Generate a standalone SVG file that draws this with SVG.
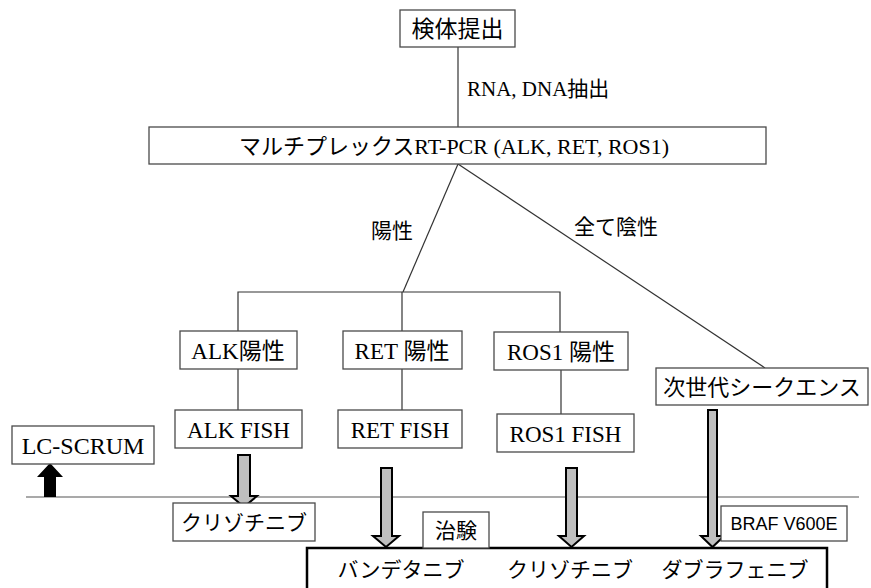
<svg xmlns="http://www.w3.org/2000/svg" width="871" height="588" viewBox="0 0 871 588">
<defs>
<style>
.box{fill:#fff;stroke:#4a4a4a;stroke-width:1.3}
.ln{fill:none;stroke:#333;stroke-width:1.2}
.t{font-family:"Liberation Serif",serif;fill:#000;text-anchor:middle}
.j{font-family:"Noto Sans CJK JP","Liberation Sans",sans-serif;fill:#000;text-anchor:middle}
.s{font-family:"Liberation Serif",serif}
.k{font-family:"Noto Sans CJK JP",sans-serif}
.arr{fill:#bfbfbf;stroke:#000;stroke-width:2;stroke-linejoin:miter}
</style>
</defs>
<rect width="871" height="588" fill="#fff"/>
<g id="connectors">
<line class="ln" x1="458" y1="47" x2="458" y2="127"/>
<line class="ln" x1="458" y1="164" x2="403" y2="292"/>
<line class="ln" x1="458" y1="164" x2="765" y2="368"/>
<polyline class="ln" points="238,331 238,292 560,292 560,332"/>
<line class="ln" x1="402" y1="292" x2="402" y2="331"/>
<line class="ln" x1="238" y1="369" x2="238" y2="410"/>
<line class="ln" x1="402" y1="369" x2="402" y2="410"/>
<line class="ln" x1="561" y1="370" x2="561" y2="414"/>
<line x1="26" y1="497" x2="859" y2="497" stroke="#555" stroke-width="1.2"/>
<path class="arr" d="M238,455 H250 V496 H257 L244,507 L231,496 H238 Z"/>
<path class="arr" d="M381,468 H392 V536 H399 L386,547 L373,536 H381 Z"/>
<path class="arr" d="M566,468 H577 V536 H584 L571.5,547 L559,536 H566 Z"/>
<path class="arr" d="M708,410 H717 V536 H724 L712.5,547 L701,536 H708 Z"/>
<path d="M44,497 V477 H37 L50,463 L63,477 H56 V497 Z" fill="#000"/>
</g>
<g id="n-kentai"><rect class="box" x="400" y="10" width="115" height="37"/><text class="j" x="457.5" y="37" font-size="23">検体提出</text></g>
<g id="l-extract"><text x="467" y="96" font-size="21"><tspan class="s">RNA, DNA</tspan><tspan class="k">抽出</tspan></text></g>
<g id="n-pcr"><rect class="box" x="149" y="127" width="617" height="37"/><text class="t" x="454" y="154" font-size="22"><tspan class="k">マルチプレックス</tspan><tspan class="s">RT-PCR (ALK, RET, ROS1)</tspan></text></g>
<g id="l-pos"><text class="j" x="392" y="238" font-size="21">陽性</text></g>
<g id="l-neg"><text class="j" x="616" y="234" font-size="21">全て陰性</text></g>
<g id="n-alkpos"><rect class="box" x="180" y="331" width="117" height="38"/><text class="t" x="238" y="359" font-size="23"><tspan class="s">ALK</tspan><tspan class="k">陽性</tspan></text></g>
<g id="n-retpos"><rect class="box" x="343" y="331" width="119" height="38"/><text class="t" x="402" y="359" font-size="23"><tspan class="s">RET </tspan><tspan class="k">陽性</tspan></text></g>
<g id="n-ros1pos"><rect class="box" x="494" y="332" width="134" height="38"/><text class="t" x="561" y="360" font-size="23"><tspan class="s">ROS1 </tspan><tspan class="k">陽性</tspan></text></g>
<g id="n-ngs"><rect class="box" x="656" y="368" width="212" height="37"/><text class="j" x="762" y="395" font-size="22">次世代シークエンス</text></g>
<g id="n-alkfish"><rect class="box" x="175" y="410" width="127" height="38"/><text class="t" x="238.5" y="438" font-size="23">ALK FISH</text></g>
<g id="n-retfish"><rect class="box" x="338" y="410" width="124" height="38"/><text class="t" x="400" y="438" font-size="23">RET FISH</text></g>
<g id="n-ros1fish"><rect class="box" x="497" y="414" width="137" height="38"/><text class="t" x="565.5" y="442" font-size="23">ROS1 FISH</text></g>
<g id="n-lcscrum"><rect class="box" x="12" y="426" width="142" height="38"/><text class="t" x="83" y="454" font-size="24">LC-SCRUM</text></g>
<g id="n-crizo1"><rect class="box" x="173" y="503" width="142" height="38"/><text class="j" x="244" y="530" font-size="21">クリゾチニブ</text></g>
<g id="n-trial-box"><rect x="307" y="548" width="520" height="60" fill="#fff" stroke="#000" stroke-width="2.5"/>
<text class="j" x="401" y="577" font-size="21">バンデタニブ</text>
<text class="j" x="570" y="577" font-size="21">クリゾチニブ</text>
<text class="j" x="735" y="577" font-size="21">ダブラフェニブ</text></g>
<g id="n-chiken"><rect class="box" x="423" y="512" width="66" height="36"/><text class="j" x="456" y="538" font-size="21">治験</text></g>
<g id="n-braf"><rect class="box" x="721" y="506" width="126" height="35"/><text x="784" y="530" font-size="18" font-family="'Liberation Sans',sans-serif" text-anchor="middle">BRAF V600E</text></g>
</svg>
